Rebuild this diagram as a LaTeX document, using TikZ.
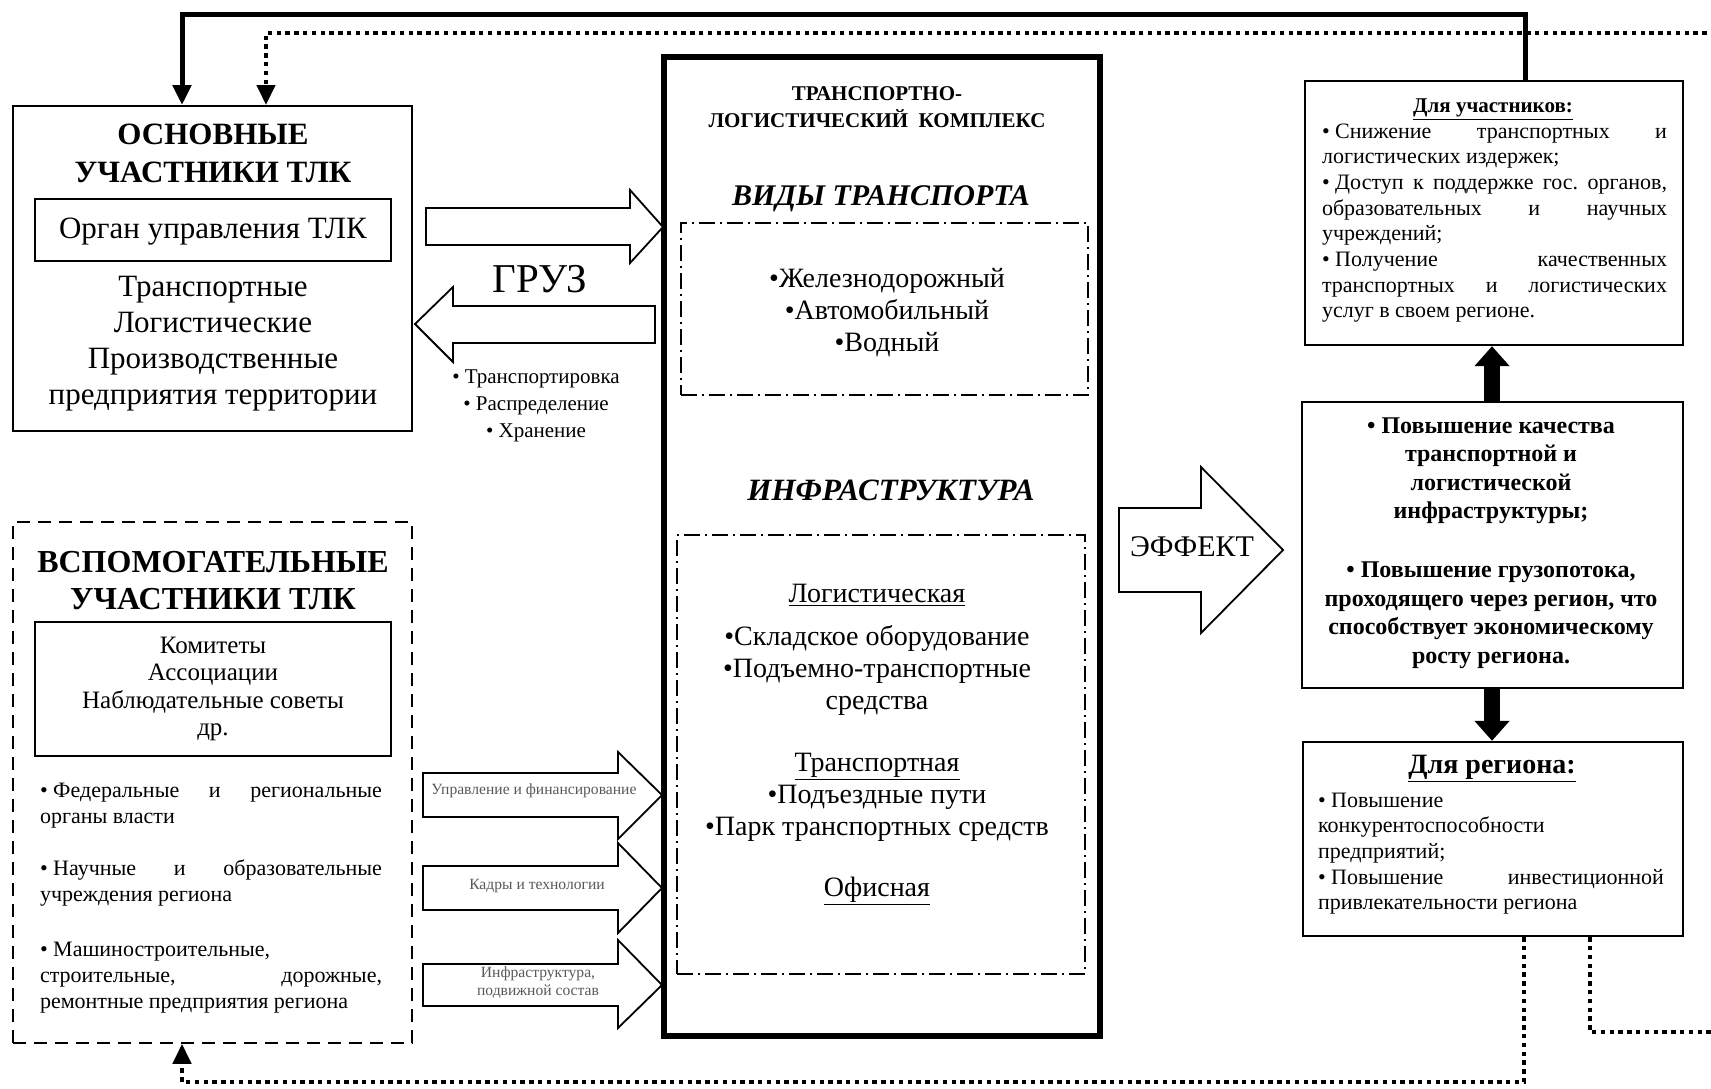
\documentclass[tikz,border=0pt]{standalone}
\usepackage{fontspec}
\setmainfont{Liberation Serif}
\usetikzlibrary{arrows.meta,fit,calc}
\newcommand{\fs}[2]{\fontsize{#1}{#2}\selectfont}
\newcommand{\jb}[1]{\hbox to\hsize{#1}}
\newcommand{\lb}[1]{\hbox{#1}}
\newcommand{\cb}[1]{\hbox to\hsize{\hss#1\hss}}
\newcommand{\vpara}[3]{\vtop{\hsize=#1\baselineskip=#2\lineskiplimit=-\maxdimen\parindent=0pt\relax #3}}
\begin{document}
\begin{tikzpicture}[x=0.5pt,y=-0.5pt,
  box/.style={draw, line width=1pt, inner sep=0pt},
  rbox/.style={draw, line width=1.2pt, inner sep=0pt},
  thickbox/.style={draw, line width=2.6pt, inner sep=0pt},
  dashbox/.style={draw, line width=0.75pt, dash pattern=on 6.5pt off 4pt, inner sep=0pt},
  ddbox/.style={draw, line width=0.7pt, dash pattern=on 8pt off 2.5pt on 1pt off 2.5pt, inner sep=0pt},
  tx/.style={anchor=base, inner sep=0pt, outer sep=0pt},
  txl/.style={anchor=base west, inner sep=0pt, outer sep=0pt},
  solidc/.style={line width=2.5pt, -{Triangle[width=9pt,length=10pt]}},
  dotc/.style={line width=2.2pt, dash pattern=on 2.2pt off 2.2pt, -{Triangle[width=9pt,length=10pt]}},
  bigarr/.style={line width=8pt, -{Triangle[width=17pt,length=10pt]}},
  blk/.style={draw, line width=0.9pt, fill=white, line join=miter},
  small/.style={text=black!65, font=\fs{7.8}{9}}
]
\useasboundingbox (0,0) rectangle (1711,1088);

% ---------- boxes ----------
\node[box, fit={(13,106) (412,431)}] (main) {};
\node[box, fit={(35,199) (391,261)}] (organ) {};
\node[dashbox, fit={(13,522) (412,1043)}] (aux) {};
\node[box, fit={(35,622) (391,756)}] (comm) {};
\node[thickbox, fit={(664,57) (1100,1036)}] (tlk) {};
\node[ddbox, fit={(681,223) (1088,395)}] (vid) {};
\node[ddbox, fit={(677,535) (1085,974)}] (infra) {};
\node[rbox, fit={(1305,81) (1683,345)}] (part) {};
\node[rbox, fit={(1302,402) (1683,688)}] (mid) {};
\node[rbox, fit={(1303,742) (1683,936)}] (reg) {};

% ---------- named coordinates for connector routes ----------
\coordinate (xa) at (182,0);
\coordinate (xb) at (266,0);
\coordinate (xs) at (1525,0);
\coordinate (xd) at (1590,0);
\coordinate (xe) at (1524,0);
\coordinate (xm) at (1492,0);
\coordinate (cTop) at (0,14);
\coordinate (cDot) at (0,33);
\coordinate (cR) at (1713,0);
\coordinate (cB1) at (0,1032);
\coordinate (cB2) at (0,1082);

% ---------- connectors ----------
\draw[dotc] (reg.south -| xd) -- (xd |- cB1) -- (cR |- cB1) -- (cR |- cDot) -| (main.north -| xb);
\draw[dotc] (reg.south -| xe) -- (xe |- cB2) -| (aux.south -| xa);
\draw[solidc] (part.north -| xs) -- (xs |- cTop) -| (main.north -| xa);
\draw[bigarr] (mid.north -| xm) -- (part.south -| xm);
\draw[bigarr] (mid.south -| xm) -- (reg.north -| xm);

% ---------- block arrows ----------
\draw[blk] (426,208) -- (630,208) -- (630,190) -- (663,227) -- (630,263) -- (630,245) -- (426,245) -- cycle;
\draw[blk] (655,306) -- (453,306) -- (453,287) -- (415,324) -- (453,362) -- (453,343) -- (655,343) -- cycle;
\draw[blk] (423,773) -- (618,773) -- (618,752) -- (662,795) -- (618,839) -- (618,817) -- (423,817) -- cycle;
\draw[blk] (423,866) -- (618,866) -- (618,843) -- (662,888) -- (618,933) -- (618,910) -- (423,910) -- cycle;
\draw[blk] (423,964) -- (618,964) -- (618,940) -- (662,985) -- (618,1028) -- (618,1006) -- (423,1006) -- cycle;
\draw[blk] (1119,508) -- (1201,508) -- (1201,467) -- (1283,550) -- (1201,633) -- (1201,592) -- (1119,592) -- cycle;

% ---------- texts: main participants ----------
\node[tx, font=\fs{15.5}{18}\bfseries] (mT1) at (213,144) {ОСНОВНЫЕ};
\node[tx, font=\fs{15.5}{18}\bfseries] (mT2) at (213,182) {УЧАСТНИКИ ТЛК};
\node[tx, font=\fs{15.5}{18}] (organT) at (213,238) {Орган управления ТЛК};
\node[tx, font=\fs{15.5}{18}] (mList) at (213,296) {\vpara{190pt}{18pt}{\cb{Транспортные}\cb{Логистические}\cb{Производственные}\cb{предприятия территории}}};

% ---------- texts: auxiliary participants ----------
\node[tx, font=\fs{16}{18}\bfseries] (aT1) at (213,572) {ВСПОМОГАТЕЛЬНЫЕ};
\node[tx, font=\fs{16}{18}\bfseries] (aT2) at (213,609) {УЧАСТНИКИ ТЛК};
\node[tx, font=\fs{12.5}{13.5}] (commT) at (213,653) {\vpara{175pt}{13.8pt}{\cb{Комитеты}\cb{Ассоциации}\cb{Наблюдательные советы}\cb{др.}}};
\node[txl, font=\fs{11}{13}] (auxL) at (40,797) {\vpara{171pt}{13pt}{%
  \jb{• Федеральные\hfill и\hfill региональные}\lb{органы власти}\vskip13pt
  \jb{• Научные\hfill и\hfill образовательные}\lb{учреждения региона}\vskip14.5pt
  \lb{• Машиностроительные,}\jb{строительные,\hfill дорожные,}\lb{ремонтные предприятия региона}}};

% ---------- cargo ----------
\node[tx, font=\fs{20.5}{24}] (gruz) at (540,292) {ГРУЗ};
\node[tx, font=\fs{10.5}{13.5}] (gruzL) at (536,383) {\vpara{120pt}{13.5pt}{\cb{• Транспортировка}\cb{• Распределение}\cb{• Хранение}}};

% ---------- small arrow labels ----------
\node[tx, small] (a1T) at (534,794) {Управление и финансирование};
\node[tx, small] (a2T) at (537,889) {Кадры и технологии};
\node[tx, small] (a3T) at (538,977) {\vpara{110pt}{9pt}{\cb{Инфраструктура,}\cb{подвижной состав}}};

% ---------- central complex ----------
\node[tx, font=\fs{10.5}{13.5}\bfseries] (tlkT) at (877,100) {\vpara{200pt}{13.5pt}{\cb{ТРАНСПОРТНО-}\cb{ЛОГИСТИЧЕСКИЙ\ \ КОМПЛЕКС}}};
\node[tx, font=\fs{15}{18}\bfseries\itshape] (vidT) at (881,205) {ВИДЫ ТРАНСПОРТА};
\node[tx, font=\fs{14}{16}] (vidL) at (887,287) {\vpara{190pt}{16pt}{\cb{•Железнодорожный}\cb{•Автомобильный}\cb{•Водный}}};
\node[tx, font=\fs{15.5}{18}\bfseries\itshape] (infT) at (891,500) {ИНФРАСТРУКТУРА};
\node[tx, font=\fs{14}{16}] (infL) at (877,602) {\vpara{195pt}{16pt}{%
  \cb{\underline{Логистическая}}\vskip5.5pt
  \cb{•Складское оборудование}\cb{•Подъемно-транспортные}\cb{средства}\vskip15pt
  \cb{\underline{Транспортная}}\cb{•Подъездные пути}\cb{•Парк транспортных средств}\vskip14.5pt
  \cb{\underline{Офисная}}}};

% ---------- effect ----------
\node[tx, font=\fs{15}{18}] (effT) at (1192,556) {ЭФФЕКТ};

% ---------- right boxes ----------
\node[tx, font=\fs{10.5}{12}\bfseries] (partT) at (1493,112) {\underline{Для участников:}};
\node[txl, font=\fs{11}{12.85}] (partL) at (1322,138) {\vpara{172.5pt}{12.85pt}{%
  \jb{• Снижение\hfill транспортных\hfill и}\lb{логистических издержек;}
  \jb{• Доступ\hfill к\hfill поддержке\hfill гос.\hfill органов,}\jb{образовательных\hfill и\hfill научных}\lb{учреждений;}
  \jb{• Получение\hfill качественных}\jb{транспортных\hfill и\hfill логистических}\lb{услуг в своем регионе.}}};

\node[tx, font=\fs{12}{14.25}\bfseries] (midL) at (1491,433) {\vpara{185pt}{14.25pt}{%
  \cb{• Повышение качества}\cb{транспортной и}\cb{логистической}\cb{инфраструктуры;}\vskip15.25pt
  \cb{• Повышение грузопотока,}\cb{проходящего через регион, что}\cb{способствует экономическому}\cb{росту региона.}}};

\node[tx, font=\fs{14}{16}\bfseries] (regT) at (1492,773) {\underline{Для региона:}};
\node[txl, font=\fs{11}{12.85}] (regL) at (1318,807) {\vpara{173pt}{12.85pt}{%
  \lb{• Повышение}\lb{конкурентоспособности}\lb{предприятий;}
  \jb{• Повышение\hfill инвестиционной}\lb{привлекательности региона}}};
\end{tikzpicture}
\end{document}
